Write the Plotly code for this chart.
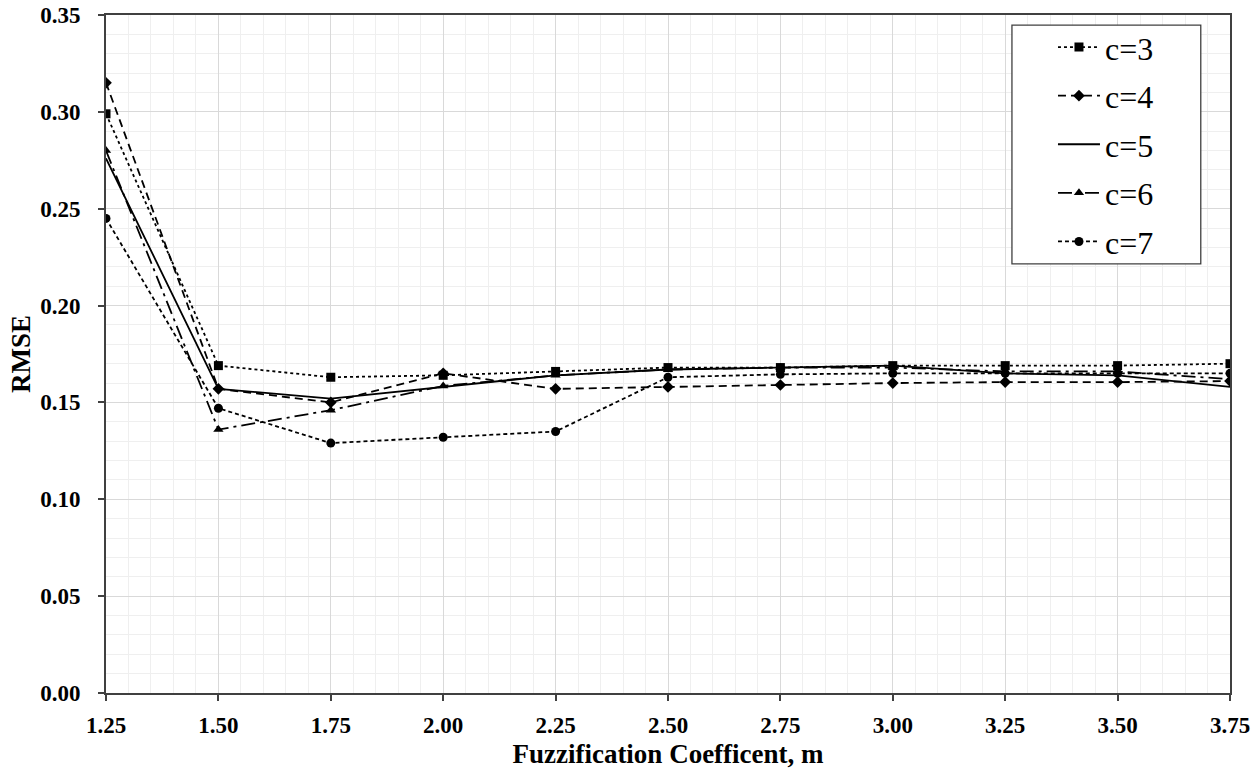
import plotly.graph_objects as go

# Fuzzification coefficient values (x axis)
m_values = [1.25, 1.50, 1.75, 2.00, 2.25, 2.50, 2.75, 3.00, 3.25, 3.50, 3.75]

# RMSE for each number of clusters c
rmse_c3 = [0.299, 0.169, 0.163, 0.164, 0.166, 0.168, 0.168, 0.169, 0.169, 0.169, 0.170]
rmse_c4 = [0.315, 0.157, 0.150, 0.165, 0.157, 0.158, 0.159, 0.160, 0.1605, 0.1605, 0.161]
rmse_c5 = [0.276, 0.157, 0.152, 0.158, 0.164, 0.167, 0.168, 0.169, 0.165, 0.164, 0.158]
rmse_c6 = [0.280, 0.136, 0.146, 0.1585, 0.164, 0.167, 0.168, 0.168, 0.166, 0.166, 0.162]
rmse_c7 = [0.245, 0.147, 0.129, 0.132, 0.135, 0.163, 0.1645, 0.165, 0.165, 0.165, 0.165]

x_ticks = [1.25, 1.50, 1.75, 2.00, 2.25, 2.50, 2.75, 3.00, 3.25, 3.50, 3.75]
y_ticks = [0.00, 0.05, 0.10, 0.15, 0.20, 0.25, 0.30, 0.35]

series = [
    ("c=3", rmse_c3, "dot", "square", 9),
    ("c=4", rmse_c4, "8px,5px", "diamond", 9),
    ("c=5", rmse_c5, "solid", None, 0),
    ("c=6", rmse_c6, "14px,5px,3px,5px", "triangle-up", 9),
    ("c=7", rmse_c7, "4px,3px", "circle", 9),
]

fig = go.Figure()
for name, vals, dash, symbol, size in series:
    mode = "lines+markers" if symbol else "lines"
    fig.add_trace(go.Scatter(
        x=m_values, y=vals, name=name, mode=mode,
        legendgroup=name,
        line=dict(color="black", width=1.8, dash=dash),
        marker=dict(symbol=symbol or "circle", size=size, color="black"),
    ))

axis_font = dict(family="Liberation Serif", size=23, color="black", weight="bold")
title_font = dict(family="Liberation Serif", size=27, color="black", weight="bold")

# Frame around the legend
fig.add_shape(
    type="rect", xref="paper", yref="paper",
    x0=0.806, x1=0.974, y0=0.633, y1=0.985,
    line=dict(color="#404040", width=1.3), fillcolor="white", layer="above",
)

fig.update_layout(
    width=1260, height=774,
    margin=dict(l=106, r=30, t=15, b=81, autoexpand=False),
    plot_bgcolor="white", paper_bgcolor="white",
    font=dict(family="Liberation Serif", color="black"),
    legend=dict(
        x=0.8425, y=0.993, xanchor="left", yanchor="top",
        borderwidth=0, bgcolor="rgba(0,0,0,0)",
        font=dict(family="Liberation Serif", size=32, color="black"),
        traceorder="grouped", tracegroupgap=4, itemwidth=42,
    ),
    xaxis=dict(
        range=[1.25, 3.75], tickvals=x_ticks, automargin=False,
        ticktext=[f"{v:.2f}" for v in x_ticks],
        tickfont=axis_font, ticklabelstandoff=4,
        title=dict(text="Fuzzification Coefficent, m", font=title_font, standoff=8),
        showline=True, linecolor="#404040", linewidth=2, mirror=True,
        ticks="outside", ticklen=6, tickcolor="#404040", tickwidth=1.5,
        showgrid=True, gridcolor="#d9d9d9", gridwidth=1,
        minor=dict(dtick=0.05, showgrid=True, gridcolor="#efefef", gridwidth=1),
        zeroline=False,
    ),
    yaxis=dict(
        range=[0, 0.35], tickvals=y_ticks, automargin=False,
        ticktext=[f"{v:.2f}" for v in y_ticks],
        tickfont=axis_font, ticklabelstandoff=13,
        title=dict(text="RMSE", font=title_font, standoff=2),
        showline=True, linecolor="#404040", linewidth=2, mirror=True,
        ticks="outside", ticklen=6, tickcolor="#404040", tickwidth=1.5,
        showgrid=True, gridcolor="#d9d9d9", gridwidth=1,
        minor=dict(dtick=0.01, showgrid=True, gridcolor="#efefef", gridwidth=1),
        zeroline=False,
    ),
)

fig.write_html("out.html")
